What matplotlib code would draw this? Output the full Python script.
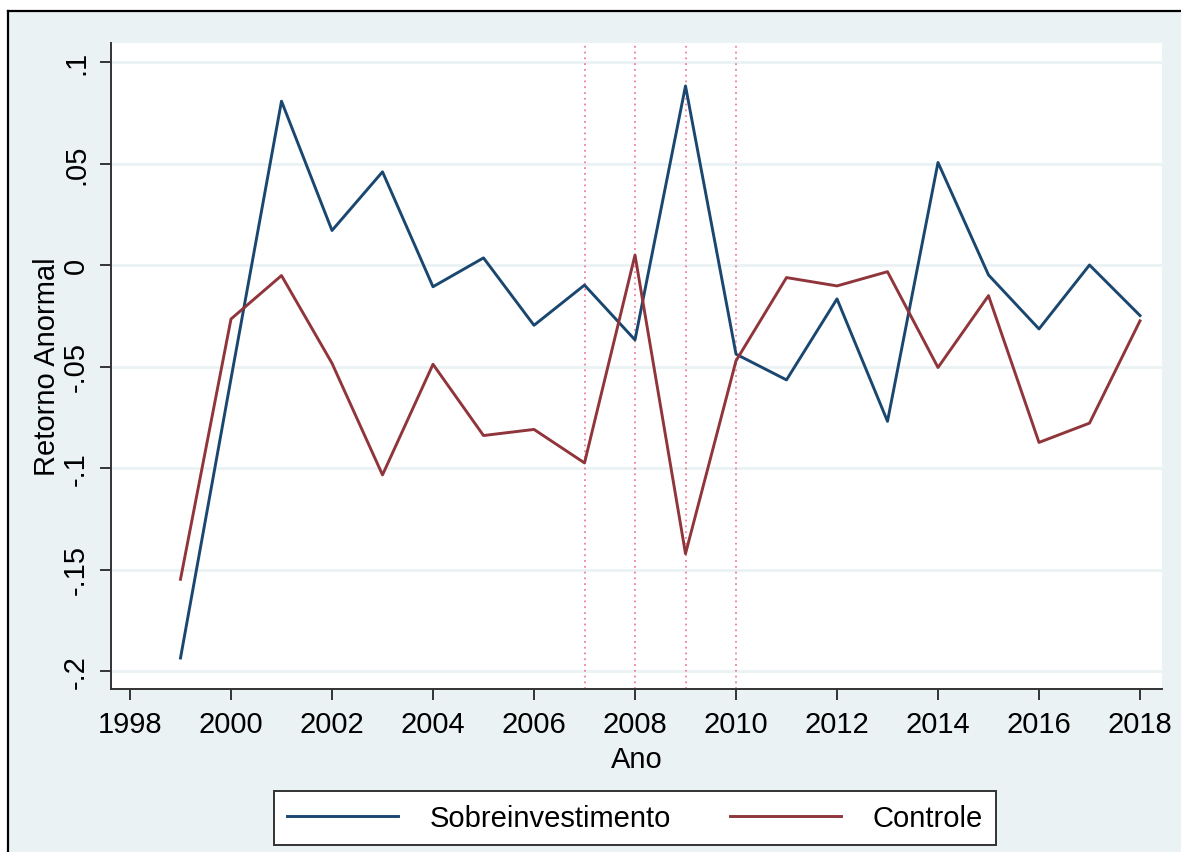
import matplotlib
matplotlib.use("Agg")
import matplotlib.pyplot as plt
from matplotlib.lines import Line2D
from matplotlib.patches import Rectangle

# dados: retorno anormal médio por ano
anos = list(range(1999, 2019))
sobreinvestimento = [-0.1936, -0.056, 0.0807, 0.0170, 0.0459, -0.0107, 0.0035, -0.0297,
                     -0.0099, -0.0369, 0.0882, -0.0439, -0.0566, -0.0167, -0.0770,
                     0.0505, -0.0049, -0.0315, 0.0, -0.0249]
controle = [-0.1548, -0.0266, -0.0052, -0.0484, -0.1034, -0.0489, -0.0840, -0.0810,
            -0.0975, 0.0049, -0.1422, -0.0472, -0.0062, -0.0103, -0.0033,
            -0.0505, -0.0151, -0.0874, -0.0779, -0.0275]
anos_crise = [2007, 2008, 2009, 2010]

y_ticks = [0.1, 0.05, 0, -0.05, -0.1, -0.15, -0.2]
y_labels = ['.1', '.05', '0', '-.05', '-.1', '-.15', '-.2']
x_ticks = list(range(1998, 2019, 2))

bg = '#EAF2F3'
azul = '#1A476F'
vermelho = '#90353B'
rosa = '#E8557A'

plt.rcParams['font.family'] = ['Liberation Sans', 'DejaVu Sans']

W, H = 1181, 853
fig = plt.figure(figsize=(W / 100, H / 100), dpi=100, facecolor='white')

# fundo do gráfico com moldura preta (topo e esquerda)
fig.patches.append(Rectangle((8 / W, 0), 1 - 8 / W, 1 - 12 / H, transform=fig.transFigure,
                             facecolor=bg, edgecolor='none', zorder=-10))
fig.lines.append(Line2D([8 / W, 1], [1 - 12 / H, 1 - 12 / H], transform=fig.transFigure,
                        color='black', lw=1.6, zorder=-5))
fig.lines.append(Line2D([8 / W, 8 / W], [0, 1 - 12 / H], transform=fig.transFigure,
                        color='black', lw=1.6, zorder=-5))

left, right, top, bottom = 111, 1162, 44, 690
ax = fig.add_axes([left / W, 1 - bottom / H, (right - left) / W, (bottom - top) / H])
ax.set_facecolor('white')

for a in anos_crise:
    ax.axvline(a, color=rosa, lw=1.3, linestyle=(0, (1, 2.2)), alpha=0.75, zorder=1)

ax.plot(anos, sobreinvestimento, color=azul, lw=2.1, label='Sobreinvestimento', zorder=3)
ax.plot(anos, controle, color=vermelho, lw=2.1, label='Controle', zorder=3)

ax.set_xlim(1998 - 19 / 50.5, 2018 + 22 / 50.5)
ax.set_ylim(-0.2 - 18 / 2030, 0.1 + 19 / 2030)

ax.set_yticks(y_ticks)
ax.set_yticklabels(y_labels, rotation=90, va='center')
ax.set_xticks(x_ticks)
ax.grid(axis='y', color=bg, lw=2.0, zorder=0)
ax.set_axisbelow(True)

for s in ['top', 'right']:
    ax.spines[s].set_visible(False)
for s in ['left', 'bottom']:
    ax.spines[s].set_color('#333333')
    ax.spines[s].set_linewidth(1.4)
ax.tick_params(direction='out', length=8, width=1.4, color='#333333',
               labelsize=21, labelcolor='black', pad=7)

ax.set_xlabel('Ano', fontsize=21, labelpad=5)
ax.set_ylabel('Retorno Anormal', fontsize=21, labelpad=1)

leg = fig.legend(loc='center', bbox_to_anchor=(635 / W, 1 - 819 / H), ncol=2,
                 fontsize=21, frameon=True, fancybox=False, edgecolor='#333333',
                 facecolor='white', framealpha=1,
                 handlelength=3.8, handletextpad=1.1, columnspacing=2.0,
                 borderpad=0.45)
leg.get_frame().set_linewidth(1.4)

fig.savefig('out.png', dpi=100, facecolor='white')
